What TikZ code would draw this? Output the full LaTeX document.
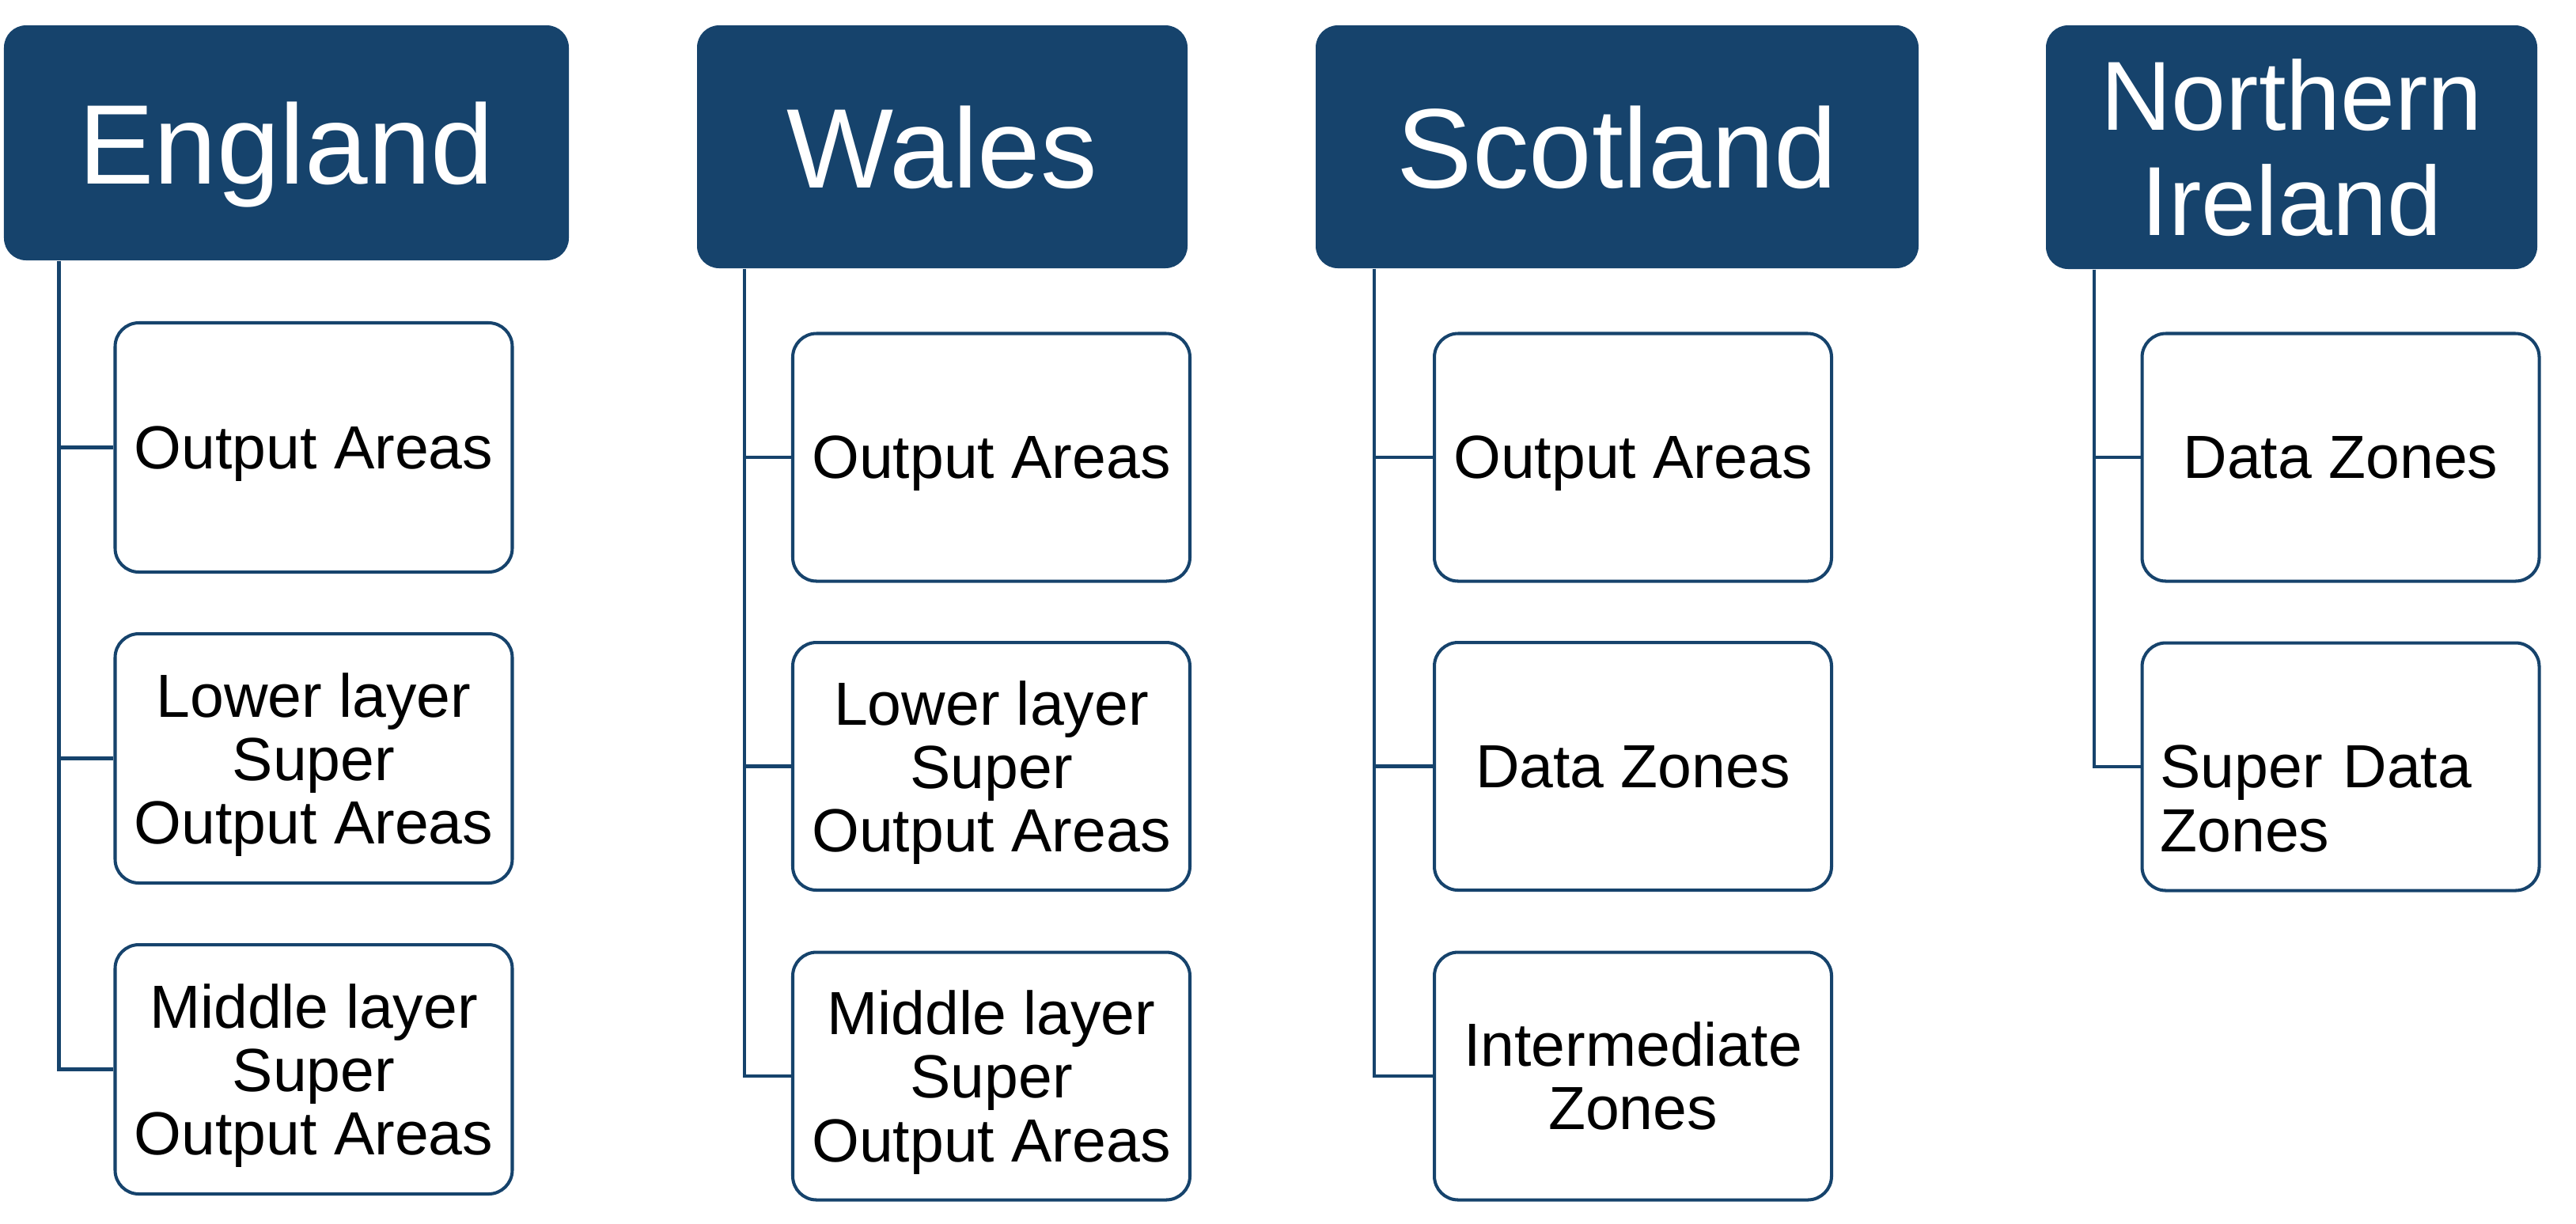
\documentclass[tikz,border=0pt]{standalone}
\usepackage{fontspec}
\setmainfont{Liberation Sans}
\definecolor{navy}{RGB}{22,67,108}
\tikzset{
  region/.style={fill=navy, draw=none, rounded corners=0.28cm, text=white,
    align=center, inner sep=0pt, text depth=0pt,
    font=\fontsize{40.7}{44}\selectfont},
  unit/.style={draw=navy, line width=1.15pt, fill=white, rounded corners=0.3cm,
    align=center, inner sep=0pt, text depth=0pt,
    minimum width=5.02cm, minimum height=3.13cm,
    font=\fontsize{21.9}{22.8}\selectfont},
  link/.style={draw=navy, line width=1.4pt},
}
\begin{document}
\begin{tikzpicture}
\useasboundingbox (0,0) rectangle (32.56,-15.46);

% country headers
\node[region, minimum width=7.14cm, minimum height=2.97cm] (eng) at (3.62,-1.805) {England};
\node[region, minimum width=6.20cm, minimum height=3.07cm] (wal) at (11.91,-1.855) {Wales};
\node[region, minimum width=7.62cm, minimum height=3.07cm] (sco) at (20.44,-1.855) {Scotland};
\node[region, minimum width=6.21cm, minimum height=3.08cm,
      font=\fontsize{35.3}{37.6}\selectfont] (nir) at (28.965,-1.86) {Northern\\Ireland};

% England
\node[unit, minimum height=3.15cm] (e1) at (3.965,-5.655) {Output Areas};
\node[unit, minimum height=3.15cm] (e2) at (3.965,-9.585) {Lower layer\\Super\\Output Areas};
\node[unit, minimum height=3.15cm] (e3) at (3.965,-13.515) {Middle layer\\Super\\Output Areas};

% Wales
\node[unit] (w1) at (12.53,-5.78) {Output Areas};
\node[unit] (w2) at (12.53,-9.685) {Lower layer\\Super\\Output Areas};
\node[unit] (w3) at (12.53,-13.60) {Middle layer\\Super\\Output Areas};

% Scotland
\node[unit] (s1) at (20.64,-5.78) {Output Areas};
\node[unit] (s2) at (20.64,-9.685) {Data Zones};
\node[unit] (s3) at (20.64,-13.60) {Intermediate\\Zones};

% Northern Ireland
\node[unit] (n1) at (29.585,-5.78) {Data Zones};
\node[unit, align=left, text width=4.56cm] (n2) at (29.585,-9.69) {Super Data\\Zones};

% trunk positions
\coordinate (eT) at (0.745,0);
\coordinate (wT) at (9.41,0);
\coordinate (sT) at (17.37,0);
\coordinate (nT) at (26.47,0);

% connectors
\draw[link] (eng.south -| eT) |- (e3.west);
\draw[link] (e1.west -| eT) -- (e1.west);
\draw[link] (e2.west -| eT) -- (e2.west);

\draw[link] (wal.south -| wT) |- (w3.west);
\draw[link] (w1.west -| wT) -- (w1.west);
\draw[link] (w2.west -| wT) -- (w2.west);

\draw[link] (sco.south -| sT) |- (s3.west);
\draw[link] (s1.west -| sT) -- (s1.west);
\draw[link] (s2.west -| sT) -- (s2.west);

\draw[link] (nir.south -| nT) |- (n2.west);
\draw[link] (n1.west -| nT) -- (n1.west);
\end{tikzpicture}
\end{document}
